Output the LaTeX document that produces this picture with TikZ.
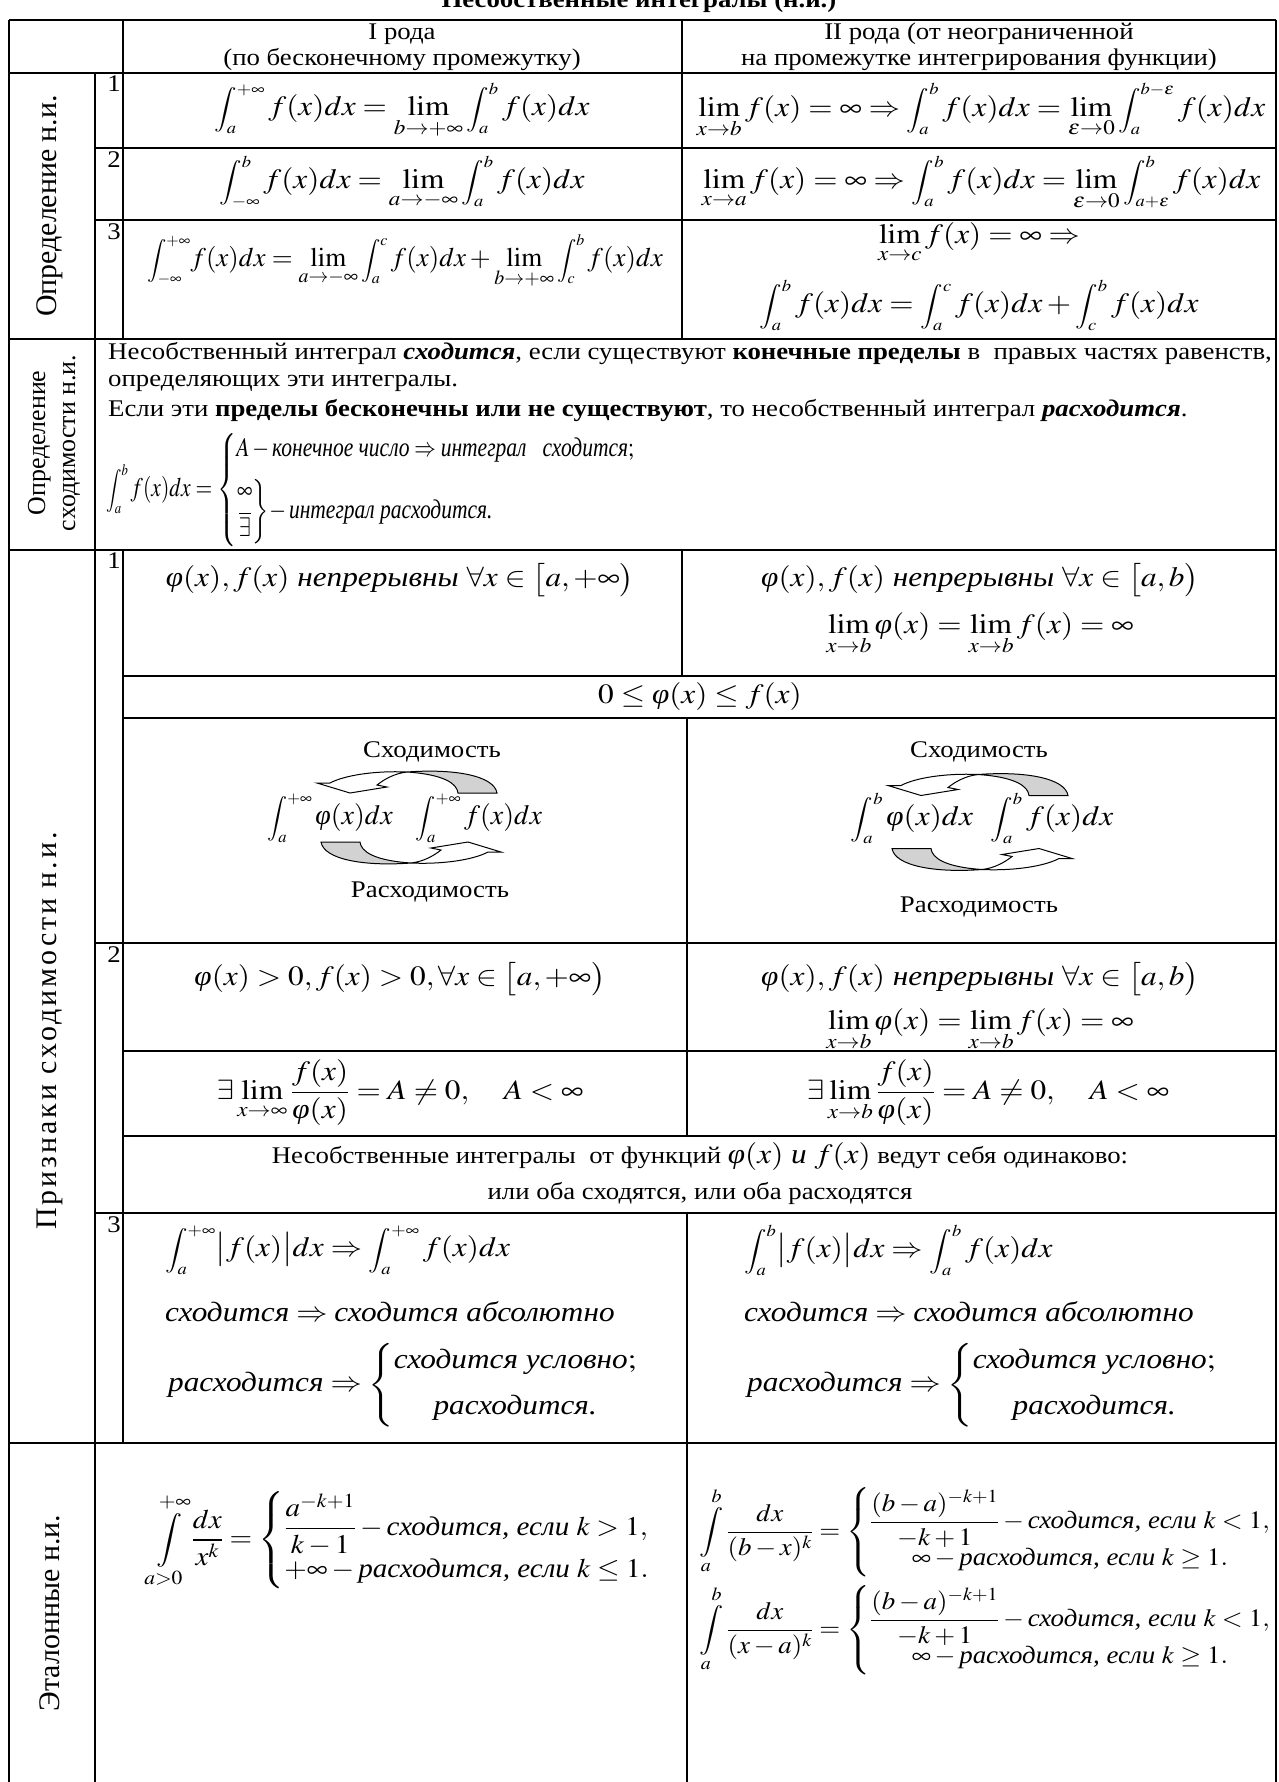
\documentclass[tikz,border=0pt]{standalone}
\usepackage{amsmath}
\usepackage{mathptmx}
\usepackage{graphicx}
\usepackage{fontspec}
\setmainfont{Liberation Serif}
\usetikzlibrary{calc}
\newcommand{\SX}{1.12}
\newcommand{\fii}{\textit{φ}}
\newcommand{\Int}[2]{\mathop{\scalebox{0.8}{$\displaystyle\int_{#1}^{#2}$}}}
\newcommand{\ribbon}{%
  \filldraw[fill=gray!35,draw=black,line width=1bp]
    (-2,-45.5) .. controls (45,-49) and (85,-42) .. (88,-24.5)
    -- (49,-24.5) .. controls (48,-34) and (35,-43) .. (-2,-45.5) -- cycle;
  \filldraw[fill=white,draw=black,line width=1bp]
    (-2,-45.5) .. controls (-35,-47) and (-65,-42) .. (-79,-34.5)
    -- (-92,-34.5) -- (-59,-24.5) -- (-22,-30.5) -- (-32,-32.5)
    .. controls (-25,-38) and (-15,-44) .. (-2,-45.5) -- cycle;}
\begin{document}
\begin{tikzpicture}[x=1bp,y=-1bp,
  tx/.style={inner sep=0pt,font=\fontsize{24}{28}\selectfont,xscale=\SX},
  mth/.style={inner sep=0pt,font=\fontsize{28}{32}\selectfont,xscale=\SX},
  mthn/.style={inner sep=0pt,font=\fontsize{28}{32}\selectfont},
  rot/.style={inner sep=0pt,rotate=90,font=\fontsize{30}{34}\selectfont},
  grid/.style={line width=2.5bp},
  thinl/.style={line width=1.5bp}]
\useasboundingbox (0,0) rectangle (1278,1782);
\fill[white] (0,0) rectangle (1278,1782);
% ---------- grid ----------
\draw[grid] (9,20) -- (1276,20);
\draw[grid] (9,20) -- (9,1782);
\draw[grid] (1276,20) -- (1276,1782);
\draw[grid] (9,73) -- (1276,73);
\draw[grid] (95,148) -- (1276,148);
\draw[grid] (95,220) -- (1276,220);
\draw[grid] (9,339) -- (1276,339);
\draw[grid] (9,550) -- (1276,550);
\draw[grid] (123,676) -- (1276,676);
\draw[grid] (123,718) -- (1276,718);
\draw[grid] (95,943) -- (1276,943);
\draw[grid] (123,1051) -- (1276,1051);
\draw[grid] (123,1136) -- (1276,1136);
\draw[grid] (95,1213) -- (1276,1213);
\draw[grid] (9,1443) -- (1276,1443);
\draw[grid] (95,73) -- (95,1782);
\draw[grid] (123,20) -- (123,339);
\draw[grid] (123,550) -- (123,1443);
\draw[grid] (682,20) -- (682,339);
\draw[thinl] (682,550) -- (682,676);
\draw[thinl] (687,718) -- (687,1136);
\draw[grid] (687,1213) -- (687,1782);
% ---------- title & header ----------
\node[tx,font=\fontsize{24}{28}\selectfont\bfseries] (title) at (639,1) {Несобственные интегралы (н.и.)};
\node[tx] (h1a) at (402,34) {I рода};
\node[tx] (h1b) at (402,60) {(по бесконечному промежутку)};
\node[tx] (h2a) at (979,34) {II рода (от неограниченной};
\node[tx] (h2b) at (979,60) {на промежутке интегрирования функции)};
% ---------- section 1 ----------
\node[rot] (lab1) at (50,206) {Определение н.и.};
\node[tx,anchor=north] (n11) at (114,76) {1};
\node[tx,anchor=north] (n12) at (114,151) {2};
\node[tx,anchor=north] (n13) at (114,223) {3};
\node[mth] (f11) at (402,111) {$\displaystyle\Int{a}{+\infty} f(x)dx = \lim_{b\to+\infty}\Int{a}{b} f(x)dx$};
\node[mth] (f12) at (981,111) {$\displaystyle\lim_{x\to b} f(x) = \infty \Rightarrow \Int{a}{b} f(x)dx = \lim_{\varepsilon\to 0}\Int{a}{b-\varepsilon} f(x)dx$};
\node[mth] (f21) at (402,183) {$\displaystyle\Int{-\infty}{b} f(x)dx = \lim_{a\to-\infty}\Int{a}{b} f(x)dx$};
\node[mth] (f22) at (981,183) {$\displaystyle\lim_{x\to a} f(x) = \infty \Rightarrow \Int{a}{b} f(x)dx = \lim_{\varepsilon\to 0}\Int{a+\varepsilon}{b} f(x)dx$};
\node[inner sep=0pt,font=\fontsize{27}{31}\selectfont,xscale=1.0] (f31) at (405,262) {$\displaystyle\Int{-\infty}{+\infty}\! f(x)dx = \lim_{a\to-\infty}\Int{a}{c} f(x)dx + \lim_{b\to+\infty}\Int{c}{b} f(x)dx$};
\node[mth] (f32a) at (979,243) {$\displaystyle\lim_{x\to c} f(x) = \infty \Rightarrow$};
\node[mth] (f32b) at (979,305) {$\displaystyle\Int{a}{b} f(x)dx = \Int{a}{c} f(x)dx + \Int{c}{b} f(x)dx$};
% ---------- section 2 ----------
\node[rot,font=\fontsize{26}{30}\selectfont,align=center] (lab2) at (54,443) {Определение\\сходимости н.и.};
\node[tx,anchor=west] (c1) at (108,354) {Несобственный интеграл \textbf{\textit{сходится}}, если существуют \textbf{конечные пределы} в~ правых частях равенств,};
\node[tx,anchor=west] (c2) at (108,383) {определяющих эти интегралы.};
\node[tx,anchor=west] (c3) at (108,411) {Если эти \textbf{пределы бесконечны или не существуют}, то несобственный интеграл \textbf{\textit{расходится}}.};
\node[inner sep=0pt,anchor=west,font=\fontsize{27}{31}\selectfont,xscale=0.8] (c4) at (106,490) {$\displaystyle\Int{a}{b} f(x)dx = \left\{\begin{array}{@{}l@{}} A - \textit{конечное число} \Rightarrow \textit{интеграл}\ \ \ \textit{сходится};\\[12pt] \left.\begin{array}{@{}c@{}}\infty\\[4pt] \overline{\exists}\end{array}\right\}\!-\textit{интеграл}\ \textit{расходится.}\end{array}\right.$};
% ---------- section 3 ----------
\node[rot,font=\fontsize{30}{34}\selectfont\addfontfeature{LetterSpace=10}] (lab3) at (50,1031) {Признаки сходимости н.и.};
\node[tx,anchor=north] (n31) at (114,553) {1};
\node[tx,anchor=north] (n32) at (114,946) {2};
\node[tx,anchor=north] (n33) at (114,1216) {3};
\node[mth] (s1a) at (400,580) {$\fii(x), f(x)\ \textit{непрерывны}\ \forall x\in\bigl[a,+\infty\bigr)$};
\node[mth] (s1b) at (980,580) {$\fii(x), f(x)\ \textit{непрерывны}\ \forall x\in\bigl[a,b\bigr)$};
\node[mth] (s1c) at (980,634) {$\displaystyle\lim_{x\to b}\fii(x) = \lim_{x\to b} f(x) = \infty$};
\node[mth] (s1d) at (700,697) {$0\le\fii(x)\le f(x)$};
% diagrams
\node[tx] (cL) at (432,752) {Сходимость};
\node[mthn] (iL1) at (330,818) {$\displaystyle\Int{a}{+\infty}\fii(x)dx$};
\node[mthn] (iL2) at (479,818) {$\displaystyle\Int{a}{+\infty} f(x)dx$};
\node[tx] (rL) at (430,892) {Расходимость};
\begin{scope}[shift={(409,817.5)}]\ribbon\end{scope}
\begin{scope}[shift={(409,817.5)},rotate=180]\ribbon\end{scope}
\node[tx] (cR) at (979,752) {Сходимость};
\node[mth] (iR1) at (912,818) {$\displaystyle\Int{a}{b}\fii(x)dx$};
\node[mth] (iR2) at (1052,818) {$\displaystyle\Int{a}{b} f(x)dx$};
\node[tx] (rR) at (979,907) {Расходимость};
\begin{scope}[shift={(980,820)}]\ribbon\end{scope}
\begin{scope}[shift={(980,824)},rotate=180]\ribbon\end{scope}
% sign 2
\node[mth] (s2a) at (400,979) {$\fii(x) > 0, f(x) > 0, \forall x\in\bigl[a,+\infty\bigr)$};
\node[mth] (s2b) at (980,979) {$\fii(x), f(x)\ \textit{непрерывны}\ \forall x\in\bigl[a,b\bigr)$};
\node[mth] (s2c) at (980,1030) {$\displaystyle\lim_{x\to b}\fii(x) = \lim_{x\to b} f(x) = \infty$};
\node[mth] (s2d) at (400,1093) {$\displaystyle\exists\lim_{x\to\infty}\frac{f(x)}{\fii(x)} = A\ne 0,\quad A<\infty$};
\node[mth] (s2e) at (988,1093) {$\displaystyle\exists\lim_{x\to b}\frac{f(x)}{\fii(x)} = A\ne 0,\quad A<\infty$};
\node[tx] (s2f) at (700,1157) {Несобственные интегралы~ от функций {\fontsize{28}{32}\selectfont$\fii(x)$ \textit{и} $f(x)$} ведут себя одинаково:};
\node[tx] (s2g) at (700,1193) {или оба сходятся, или оба расходятся};
% sign 3
\node[mth,anchor=west] (s3a) at (165,1250) {$\displaystyle\Int{a}{+\infty}\bigl|f(x)\bigr|dx\Rightarrow\Int{a}{+\infty} f(x)dx$};
\node[mth,anchor=west] (s3b) at (165,1312) {$\textit{сходится}\Rightarrow\textit{сходится абсолютно}$};
\node[mth,anchor=west] (s3c) at (168,1385) {$\textit{расходится}\Rightarrow\left\{\begin{array}{@{}c@{}}\textit{сходится условно};\\[14pt] \textit{расходится.}\end{array}\right.$};
\node[mth,anchor=west] (s3d) at (744,1250) {$\displaystyle\Int{a}{b}\bigl|f(x)\bigr|dx\Rightarrow\Int{a}{b} f(x)dx$};
\node[mth,anchor=west] (s3e) at (744,1312) {$\textit{сходится}\Rightarrow\textit{сходится абсолютно}$};
\node[mth,anchor=west] (s3f) at (747,1385) {$\textit{расходится}\Rightarrow\left\{\begin{array}{@{}c@{}}\textit{сходится условно};\\[14pt] \textit{расходится.}\end{array}\right.$};
% ---------- section 4 ----------
\node[rot] (lab4) at (50,1613) {Эталонные н.и.};
\node[inner sep=0pt,font=\fontsize{27}{31}\selectfont,xscale=1.08] (e1) at (400,1540) {$\displaystyle\int\limits_{a>0}^{+\infty}\frac{dx}{x^k} = \left\{\begin{array}{@{}l@{}}\dfrac{a^{-k+1}}{k-1} - \textit{сходится, если}\ k>1,\\ +\infty - \textit{расходится, если}\ k\le 1.\end{array}\right.$};
\node[inner sep=0pt,anchor=west,font=\fontsize{25}{29}\selectfont,xscale=1.08] (e2) at (699,1532) {$\displaystyle\int\limits_a^b\frac{dx}{(b-x)^k} = \left\{\begin{array}{@{}c@{}}\dfrac{(b-a)^{-k+1}}{-k+1} - \textit{сходится, если}\ k<1,\\[-2pt] \infty - \textit{расходится, если}\ k\ge 1.\end{array}\right.$};
\node[inner sep=0pt,anchor=west,font=\fontsize{25}{29}\selectfont,xscale=1.08] (e3) at (699,1630) {$\displaystyle\int\limits_a^b\frac{dx}{(x-a)^k} = \left\{\begin{array}{@{}c@{}}\dfrac{(b-a)^{-k+1}}{-k+1} - \textit{сходится, если}\ k<1,\\[-2pt] \infty - \textit{расходится, если}\ k\ge 1.\end{array}\right.$};
\end{tikzpicture}
\end{document}
